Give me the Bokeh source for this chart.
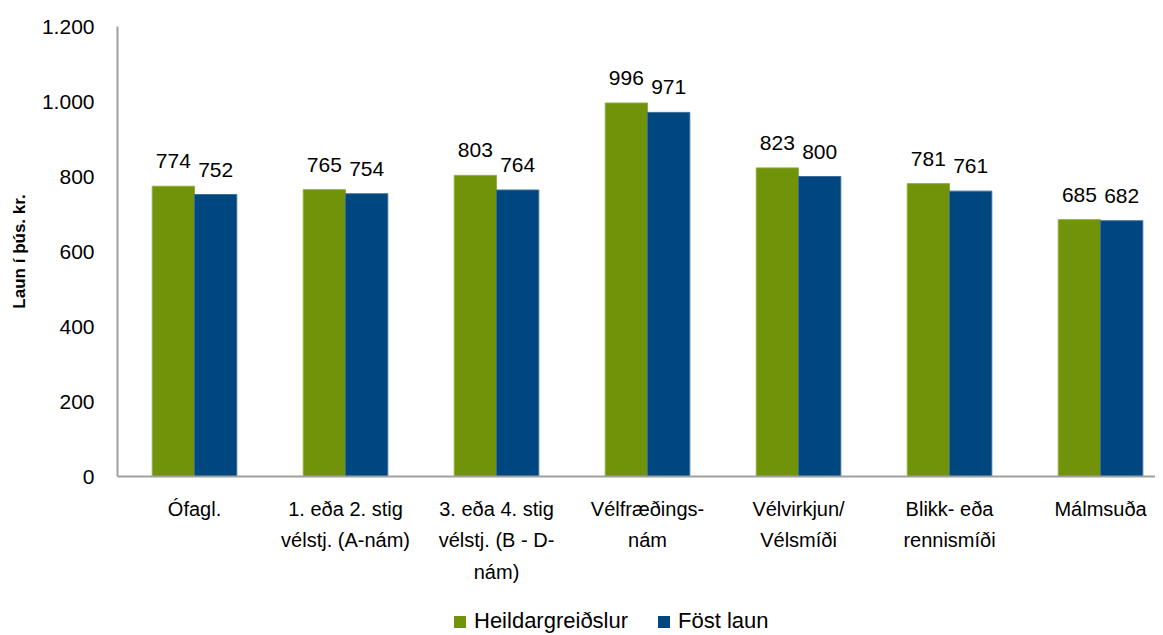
from bokeh.plotting import figure
from bokeh.models import ColumnDataSource, Range1d, FixedTicker, Legend, LegendItem
from bokeh.layouts import column
from bokeh.embed import file_html
from bokeh.resources import INLINE
from bokeh.core.properties import value

categories = ["Ófagl.", "1. eða 2. stig\nvélstj. (A-nám)", "3. eða 4. stig\nvélstj. (B - D-\nnám)",
              "Vélfræðings-\nnám", "Vélvirkjun/\nVélsmíði", "Blikk- eða\nrennismíði", "Málmsuða"]
heildar = [774, 765, 803, 996, 823, 781, 685]
fost = [752, 754, 764, 971, 800, 761, 682]
y_ticks = [0, 200, 400, 600, 800, 1000, 1200]
y_tick_labels = ["0", "200", "400", "600", "800", "1.000", "1.200"]
series_names = ["Heildargreiðslur", "Föst laun"]

GREEN = "#70930a"
BLUE = "#00467f"
FONT = "Liberation Sans"

x = list(range(len(categories)))
src1 = ColumnDataSource(dict(x=[i - 0.14 for i in x], top=heildar, lab=[str(v) for v in heildar]))
src2 = ColumnDataSource(dict(x=[i + 0.14 for i in x], top=fost, lab=[str(v) for v in fost]))

XR = (-0.51, 6.364)

p = figure(width=1155, height=591, output_backend="svg", toolbar_location=None,
           x_range=Range1d(*XR), y_range=Range1d(0, 1200),
           min_border_left=117, min_border_right=0, min_border_top=26, min_border_bottom=115)
p.outline_line_color = None
p.grid.visible = False

p.vbar(x="x", top="top", width=0.28, source=src1, fill_color=GREEN, line_color="#8daf3a", line_width=1)
p.vbar(x="x", top="top", width=0.28, source=src2, fill_color=BLUE, line_color="#3a6d9a", line_width=1)

for s in (src1, src2):
    p.text(x="x", y="top", text="lab", source=s, text_align="center", text_baseline="alphabetic",
           y_offset=-25, text_font=value(FONT), text_font_size="21px", text_color="#000000")

xa = p.xaxis[0]
xa.ticker = FixedTicker(ticks=x)
xa.major_label_overrides = {i: c for i, c in enumerate(categories)}
xa.major_tick_line_color = None
xa.minor_tick_line_color = None
xa.major_tick_out = 0
xa.major_label_standoff = 21
xa.major_label_text_font = FONT
xa.major_label_text_font_size = "20px"
xa.major_label_text_color = "#000000"
xa.major_label_text_line_height = 1.45
xa.axis_line_color = "#a0a0a0"
xa.axis_line_width = 2

ya = p.yaxis[0]
ya.ticker = FixedTicker(ticks=y_ticks)
ya.major_label_overrides = {t: l for t, l in zip(y_ticks, y_tick_labels)}
ya.major_tick_line_color = None
ya.minor_tick_line_color = None
ya.major_tick_out = 0
ya.major_label_standoff = 23
ya.major_label_text_font = FONT
ya.major_label_text_font_size = "21px"
ya.major_label_text_color = "#000000"
ya.axis_line_color = "#a0a0a0"
ya.axis_line_width = 2
ya.axis_label = "Laun í þús. kr."
ya.axis_label_text_font = FONT
ya.axis_label_text_font_style = "bold"
ya.axis_label_text_font_size = "17px"
ya.axis_label_text_color = "#000000"
ya.axis_label_standoff = 10

# legend strip underneath the chart (its bars lie outside its visible ranges)
lg = figure(width=1155, height=43, output_backend="svg", toolbar_location=None,
            x_range=Range1d(50, 57), y_range=Range1d(5000, 6000),
            x_axis_type=None, y_axis_type=None,
            min_border_left=117, min_border_right=0, min_border_top=0, min_border_bottom=0)
lg.outline_line_color = None
lg.grid.visible = False
l1 = lg.vbar(x="x", top="top", width=0.28, source=src1, fill_color=GREEN, line_color=None)
l2 = lg.vbar(x="x", top="top", width=0.28, source=src2, fill_color=BLUE, line_color=None)
legend = Legend(items=[LegendItem(label=series_names[0], renderers=[l1]),
                       LegendItem(label=series_names[1], renderers=[l2])],
                orientation="horizontal", location=(335, 0),
                glyph_width=15, glyph_height=15, label_standoff=7, spacing=28,
                padding=0, margin=0, border_line_color=None, background_fill_alpha=0,
                label_text_font=FONT, label_text_font_size="22px", label_text_color="#000000")
lg.add_layout(legend, "center")

open("out.html", "w").write(file_html(column(p, lg, spacing=0), INLINE))
